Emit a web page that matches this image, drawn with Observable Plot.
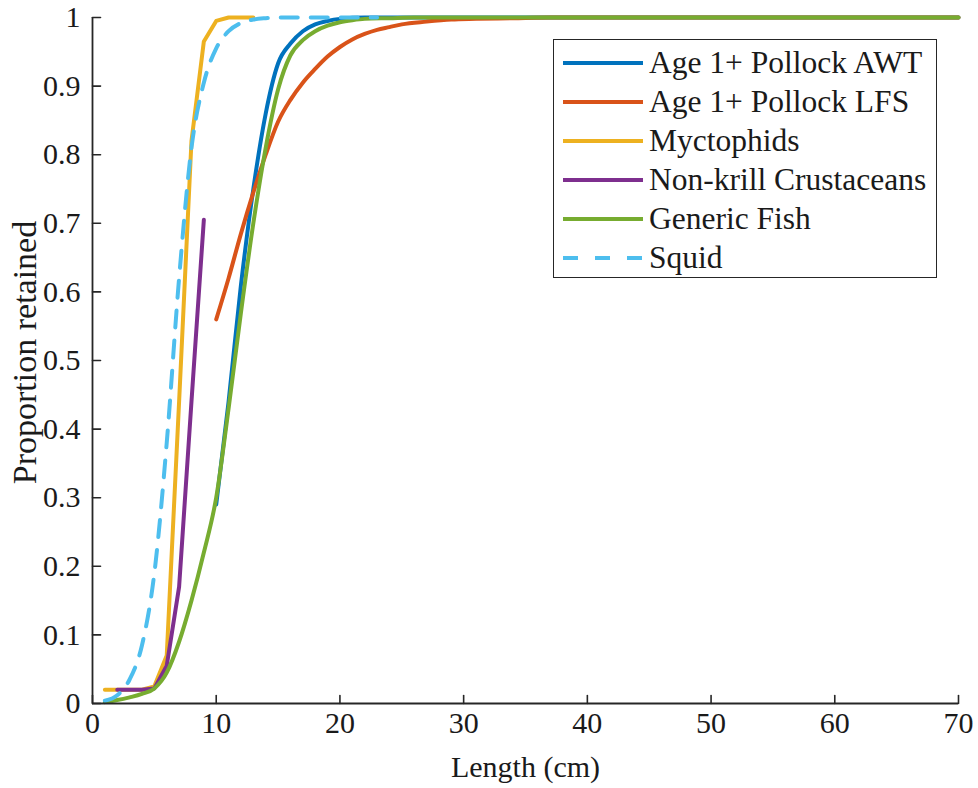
<!DOCTYPE html>
<html><head><meta charset="utf-8">
<script src="https://cdn.jsdelivr.net/npm/d3@7"></script>
<script src="https://cdn.jsdelivr.net/npm/@observablehq/plot@0.6"></script>
<style>
body{margin:0;background:#fff;}
#wrap{position:relative;width:978px;height:788px;}
#legend{position:absolute;left:553px;top:39px;width:382px;height:234px;border:1.5px solid #262626;background:#fff;font-family:"Liberation Serif","Times New Roman",serif;font-size:31.5px;color:#1a1a1a;padding-top:3px;}
.row{display:flex;align-items:center;height:39px;white-space:nowrap;}
.row svg{margin-left:9px;margin-right:6px;}
</style></head><body><div id="wrap"></div>
<script>
// Series names and colours
const seriesNames = ["Age 1+ Pollock AWT","Age 1+ Pollock LFS","Myctophids","Non-krill Crustaceans","Generic Fish","Squid"];
const seriesColors = ["#0072BD","#D95319","#EDB120","#7E2F8E","#77AC30","#4DBEEE"];

// Age 1+ Pollock AWT
const lenAWT = [10,11,12,13,14,15,16,17,18,19,20,22,25,30,40,50,60,70];
const valAWT = [0.29,0.44,0.61,0.75,0.86,0.933,0.962,0.98,0.99,0.995,0.998,1,1,1,1,1,1,1];
// Age 1+ Pollock LFS
const lenLFS = [10,11,12,13,14,15,16,17,18,19,20,21,22,23,24,25,27,29,31,34,37,40,50,60,70];
const valLFS = [0.56,0.62,0.685,0.745,0.80,0.848,0.88,0.905,0.925,0.943,0.957,0.968,0.976,0.982,0.986,0.99,0.994,0.997,0.998,0.999,1,1,1,1,1];
// Myctophids
const lenMyc = [1,2,3,4,5,6,7,8,9,10,11,12,13];
const valMyc = [0.02,0.02,0.02,0.02,0.025,0.07,0.44,0.82,0.965,0.995,1,1,1];
// Non-krill Crustaceans
const lenNK = [2,3,4,5,6,7,8,9];
const valNK = [0.02,0.02,0.02,0.022,0.055,0.17,0.44,0.705];
// Generic Fish
const lenGen = [1,2,3,4,5,6,7,8,9,10,11,12,13,14,15,16,17,18,19,20,21,22,24,26,30,40,50,60,70];
const valGen = [0.002,0.005,0.009,0.014,0.022,0.045,0.09,0.15,0.22,0.30,0.43,0.57,0.70,0.81,0.895,0.945,0.967,0.98,0.988,0.993,0.996,0.998,0.999,1,1,1,1,1,1];
// Squid
const lenSq = [1,2,3,4,5,6,7,8,9,10,11,12,13,14,15,17,19,21,23];
const valSq = [0.004,0.012,0.035,0.085,0.19,0.38,0.62,0.81,0.905,0.955,0.98,0.992,0.997,0.999,1,1,1,1,1];

// Ticks and axis titles
const xTicks = [0,10,20,30,40,50,60,70];
const xTickLabels = ["0","10","20","30","40","50","60","70"];
const yTicks = [0,0.1,0.2,0.3,0.4,0.5,0.6,0.7,0.8,0.9,1];
const yTickLabels = ["0","0.1","0.2","0.3","0.4","0.5","0.6","0.7","0.8","0.9","1"];
const xTitle = ["Length (cm)"];
const yTitle = ["Proportion retained"];

const lens = [lenAWT,lenLFS,lenMyc,lenNK,lenGen,lenSq];
const vals = [valAWT,valLFS,valMyc,valNK,valGen,valSq];
const curves = ["monotone-x","monotone-x","linear","linear","monotone-x","monotone-x"];
const dashes = [null,null,null,null,null,"17,13"];

const ink = "#262626";
const tickShape = {draw(ctx, l){ ctx.moveTo(0,0); ctx.lineTo(0,-l); }};

const lineMarks = lens.map((L, s) => Plot.line(L.map((x, i) => ({x, y: vals[s][i]})), {
  x: "x", y: "y", stroke: seriesColors[s], strokeWidth: 4, curve: curves[s],
  strokeDasharray: dashes[s], strokeLinejoin: "round"
}));

const chart = Plot.plot({
  width: 978, height: 788,
  marginLeft: 92, marginRight: 20, marginTop: 17, marginBottom: 85,
  style: {fontFamily: "'Liberation Serif','Times New Roman',serif", fontSize: "30px", color: "#1a1a1a", background: "white", overflow: "visible"},
  x: {domain: [0, 70]},
  y: {domain: [0, 1]},
  marks: [
    ...lineMarks,
    Plot.ruleY([0], {stroke: ink, strokeWidth: 1.8}),
    Plot.ruleX([0], {stroke: ink, strokeWidth: 1.8}),
    Plot.vector(xTicks, {x: d => d, y: 0, length: 8, rotate: 0, anchor: "start", shape: tickShape, stroke: ink, strokeWidth: 1.6}),
    Plot.vector(yTicks, {x: 0, y: d => d, length: 8, rotate: 90, anchor: "start", shape: tickShape, stroke: ink, strokeWidth: 1.6}),
    Plot.axisX(xTicks, {tickSize: 0, tickPadding: 8, tickFormat: d => xTickLabels[xTicks.indexOf(d)], label: null}),
    Plot.axisY(yTicks, {tickSize: 0, tickPadding: 12, tickFormat: d => yTickLabels[yTicks.indexOf(d)], label: null}),
    Plot.text(xTitle, {text: d => d, frameAnchor: "bottom", textAnchor: "middle", dy: 64, lineAnchor: "middle", fontSize: 30, fill: "#1a1a1a"}),
    Plot.text(yTitle, {text: d => d, frameAnchor: "left", textAnchor: "middle", dx: -67, dy: -8, rotate: -90, lineAnchor: "middle", fontSize: 34, fill: "#1a1a1a"})
  ]
});
const wrap = document.getElementById("wrap");
wrap.appendChild(chart);

// Legend (inside the axes, top-right)
const legend = document.createElement("div");
legend.id = "legend";
seriesNames.forEach((name, s) => {
  const row = document.createElement("div");
  row.className = "row";
  row.innerHTML = `<svg width="80" height="8"><line x1="0" y1="4" x2="80" y2="4" stroke="${seriesColors[s]}" stroke-width="4" ${dashes[s] ? `stroke-dasharray="15,17"` : ""}/></svg><span>${name}</span>`;
  legend.appendChild(row);
});
wrap.appendChild(legend);
</script>
</body></html>
